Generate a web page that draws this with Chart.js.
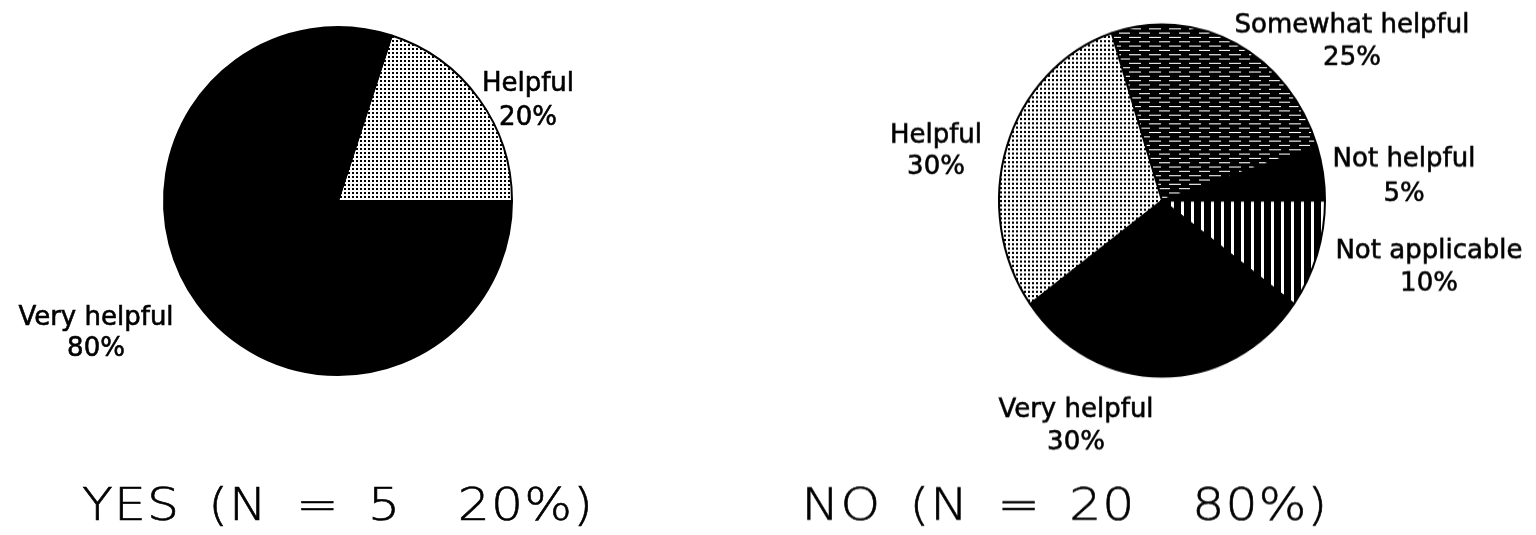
<!DOCTYPE html>
<html>
<head>
<meta charset="utf-8">
<script src="https://cdn.jsdelivr.net/npm/chart.js@4.4.1/dist/chart.umd.min.js"></script>
<style>
  html, body { margin: 0; padding: 0; background: #fff; }
  body { width: 1536px; height: 535px; position: relative; overflow: hidden; }
  canvas { position: absolute; top: 0; }
  #yesChart { left: 0; }
  /* the NO pie is drawn slightly taller than wide */
  #noChart { left: 768px; transform-origin: 50% 200.5px; transform: scaleY(1.08); }
</style>
</head>
<body>
<canvas id="yesChart" width="768" height="535"></canvas>
<canvas id="noChart" width="768" height="535"></canvas>
<script>
// ---- data ----
const yesCategories = ['Helpful', 'Very helpful'];
const yesValues = [20, 80];

const noCategories = ['Somewhat helpful', 'Not helpful', 'Not applicable', 'Very helpful', 'Helpful'];
const noValues = [25, 5, 10, 30, 30];

const groupNames = ['YES', 'NO'];
const groupCounts = [5, 20];
const groupShares = [20, 80];

// ---- fills ----
function makePattern(w, h, paint) {
  const c = document.createElement('canvas');
  c.width = w; c.height = h;
  const g = c.getContext('2d');
  paint(g);
  return g.createPattern(c, 'repeat');
}
const dotScreen = makePattern(4, 4, g => {
  g.fillStyle = '#fff'; g.fillRect(0, 0, 4, 4);
  g.fillStyle = '#000'; g.fillRect(0, 0, 2, 2);
});
const dashHatch = makePattern(20, 8, g => {
  g.fillStyle = '#000'; g.fillRect(0, 0, 20, 8);
  g.fillStyle = '#fff';
  g.fillRect(1, 1, 12, 1);
  g.fillRect(11, 5, 11, 1);
  g.fillRect(0, 5, 2, 1);
});
const verticalStripes = makePattern(10, 4, g => {
  g.fillStyle = '#000'; g.fillRect(0, 0, 10, 4);
  g.fillStyle = '#fff'; g.fillRect(3, 0, 3, 4);
});
const fillFor = {
  'Helpful': dotScreen,
  'Very helpful': '#000',
  'Somewhat helpful': dashHatch,
  'Not helpful': '#000',
  'Not applicable': verticalStripes
};

// label anchors: centre x, baseline of the first line, line gap (page pixels)
const yesLabelPos = {
  'Helpful': [528, 91, 34],
  'Very helpful': [96, 325, 31]
};
const noLabelPos = {
  'Somewhat helpful': [1352, 33, 32],
  'Not helpful': [1404, 167, 34],
  'Not applicable': [1429, 258, 33],
  'Helpful': [936, 143, 31],
  'Very helpful': [1076, 417, 32]
};
// caption centre x per group (page pixels)
const captionX = [338, 1065];

// draws slice labels and the group caption; undoes the vertical CSS stretch for text
const pieText = {
  id: 'pieText',
  afterDraw(chart, args, opts) {
    const ctx = chart.ctx;
    const sy = opts.stretch || 1;
    const oy = opts.originY || 0;
    const ox = opts.offsetX || 0;
    const put = (txt, X, Y, font, sx, ls, ws, outline) => {
      ctx.save();
      ctx.translate(X - ox, oy + (Y - oy) / sy);
      ctx.scale(sx, 1 / sy);
      ctx.font = font;
      ctx.fillStyle = '#000';
      ctx.strokeStyle = '#000';
      ctx.textAlign = 'center';
      ctx.textBaseline = 'alphabetic';
      ctx.letterSpacing = ls || '0px';
      ctx.wordSpacing = ws || '0px';
      ctx.fillText(txt, 0, 0);
      if (outline) { ctx.lineWidth = outline; ctx.strokeText(txt, 0, 0); }
      ctx.restore();
    };
    const labels = chart.data.labels;
    const values = chart.data.datasets[0].data;
    labels.forEach((name, i) => {
      const p = opts.positions[name];
      if (!p) return;
      put(name, p[0], p[1], '26px "DejaVu Sans"', 1, '0px', '0px', 0.6);
      put(values[i] + '%', p[0], p[1] + p[2], '26px "DejaVu Sans"', 1, '0px', '0px', 0.6);
    });
    const g = opts.group;
    const caption = groupNames[g] + ' (N = ' + groupCounts[g] + '  ' + groupShares[g] + '%)';
    put(caption, captionX[g], 520, '200 45px "DejaVu Sans"', 1.12, '1px', '10px', 0.6);
  }
};

function pieChart(id, categories, values, rotation, radius, padding, textOpts) {
  return new Chart(document.getElementById(id), {
    type: 'pie',
    data: {
      labels: categories,
      datasets: [{
        data: values,
        backgroundColor: categories.map(c => fillFor[c]),
        borderColor: '#000',
        borderWidth: 2,
        hoverOffset: 0,
        offset: 0
      }]
    },
    options: {
      responsive: false,
      animation: false,
      events: [],
      rotation: rotation,
      radius: radius,
      layout: { padding: padding },
      plugins: {
        legend: { display: false },
        tooltip: { enabled: false },
        title: { display: false },
        pieText: textOpts
      }
    },
    plugins: [pieText]
  });
}

pieChart('yesChart', yesCategories, yesValues, 18, 174,
  { left: 164, right: 256, top: 27, bottom: 160 },
  { positions: yesLabelPos, group: 0, stretch: 1, originY: 0, offsetX: 0 });

pieChart('noChart', noCategories, noValues, -18, 163,
  { left: 231, right: 211, top: 37.5, bottom: 171.5 },
  { positions: noLabelPos, group: 1, stretch: 1.08, originY: 200.5, offsetX: 768 });
</script>
</body>
</html>
